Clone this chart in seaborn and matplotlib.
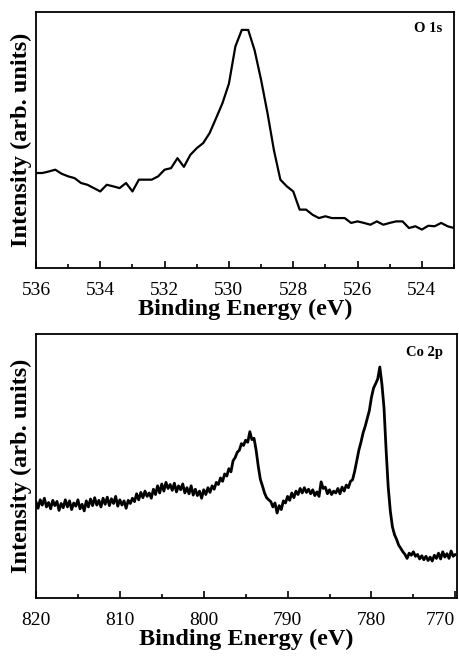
import numpy as np
import pandas as pd
import matplotlib
matplotlib.use("Agg")
import matplotlib.pyplot as plt
import seaborn as sns
from matplotlib.ticker import MultipleLocator

# Espectro O 1s (energia de ligação em eV, passo de 0.2 eV)
o1s_inicio, o1s_fim = 536.0, 523.0
o1s_intensidade = [
    0.371, 0.371, 0.377, 0.384, 0.368, 0.358, 0.351, 0.332, 0.325, 0.312,
    0.299, 0.325, 0.319, 0.312, 0.332, 0.299, 0.345, 0.345, 0.345, 0.358,
    0.384, 0.390, 0.429, 0.395, 0.442, 0.468, 0.488, 0.527, 0.585, 0.644,
    0.720, 0.865, 0.930, 0.930, 0.850, 0.735, 0.605, 0.460, 0.345, 0.319,
    0.299, 0.228, 0.228, 0.208, 0.195, 0.202, 0.195, 0.195, 0.195, 0.176,
    0.182, 0.176, 0.169, 0.182, 0.169, 0.176, 0.182, 0.182, 0.156, 0.163,
    0.150, 0.165, 0.163, 0.176, 0.163, 0.156,
]
o1s_ticks = [536, 534, 532, 530, 528, 526, 524]

# Espectro Co 2p (passo de 0.25 eV)
co2p_inicio, co2p_fim = 820.0, 770.0
co2p_intensidade = [
    0.365, 0.340, 0.372, 0.352, 0.378, 0.345, 0.362, 0.338,
    0.370, 0.350, 0.366, 0.332, 0.358, 0.342, 0.372, 0.345,
    0.368, 0.335, 0.360, 0.348, 0.372, 0.338, 0.355, 0.330,
    0.368, 0.345, 0.375, 0.350, 0.380, 0.352, 0.370, 0.345,
    0.378, 0.355, 0.382, 0.350, 0.376, 0.358, 0.385, 0.348,
    0.372, 0.352, 0.368, 0.340, 0.370, 0.358, 0.378, 0.365,
    0.395, 0.372, 0.400, 0.380, 0.405, 0.385, 0.398, 0.378,
    0.412, 0.392, 0.425, 0.398, 0.432, 0.405, 0.438, 0.415,
    0.430, 0.408, 0.435, 0.402, 0.425, 0.410, 0.432, 0.398,
    0.418, 0.395, 0.425, 0.390, 0.412, 0.388, 0.405, 0.378,
    0.410, 0.392, 0.418, 0.400, 0.425, 0.412, 0.438, 0.430,
    0.455, 0.442, 0.470, 0.462, 0.490, 0.478, 0.520, 0.532,
    0.552, 0.560, 0.585, 0.578, 0.598, 0.590, 0.630, 0.600,
    0.605, 0.560, 0.500, 0.450, 0.425, 0.398, 0.380, 0.372,
    0.365, 0.345, 0.360, 0.322, 0.350, 0.335, 0.368, 0.360,
    0.385, 0.370, 0.398, 0.380, 0.405, 0.392, 0.415, 0.398,
    0.418, 0.400, 0.412, 0.395, 0.410, 0.388, 0.402, 0.385,
    0.440, 0.415, 0.420, 0.395, 0.410, 0.392, 0.405, 0.398,
    0.415, 0.395, 0.420, 0.405, 0.428, 0.418, 0.442, 0.448,
    0.480, 0.520, 0.560, 0.590, 0.625, 0.650, 0.680, 0.710,
    0.760, 0.795, 0.812, 0.830, 0.875, 0.810, 0.720, 0.560,
    0.420, 0.330, 0.270, 0.240, 0.222, 0.200, 0.188, 0.175,
    0.165, 0.150, 0.170, 0.162, 0.175, 0.158, 0.165, 0.148,
    0.160, 0.145, 0.158, 0.142, 0.155, 0.140, 0.162, 0.150,
    0.170, 0.148, 0.175, 0.155, 0.168, 0.150, 0.178, 0.158,
    0.165,
]
co2p_ticks = [820, 810, 800, 790, 780, 770]

o1s = pd.DataFrame({
    'Energia': np.linspace(o1s_inicio, o1s_fim, len(o1s_intensidade)),
    'Intensidade': o1s_intensidade,
})
co2p = pd.DataFrame({
    'Energia': np.linspace(co2p_inicio, co2p_fim, len(co2p_intensidade)),
    'Intensidade': co2p_intensidade,
})

sns.set_theme(style='ticks')
plt.rcParams['font.family'] = ['Liberation Serif', 'DejaVu Serif']
plt.rcParams['text.color'] = 'black'
plt.rcParams['axes.labelcolor'] = 'black'
plt.rcParams['xtick.color'] = 'black'

fig = plt.figure(figsize=(4.59, 6.56), dpi=100)
ax1 = fig.add_axes([0.0784, 0.5915, 0.9107, 0.3902])
ax2 = fig.add_axes([0.0784, 0.0884, 0.9172, 0.4024])

def painel(ax, dados, xlim, ticks, menor, rotulo, xr, yr, lw):
    sns.lineplot(data=dados, x='Energia', y='Intensidade', ax=ax,
                 color='black', linewidth=lw, sort=False)
    ax.set_xlim(*xlim)
    ax.set_ylim(0, 1)
    ax.set_yticks([])
    ax.set_xticks(ticks)
    ax.set_xticklabels([str(t) for t in ticks])
    ax.xaxis.set_minor_locator(MultipleLocator(menor))
    ax.tick_params(axis='x', which='both', direction='in', top=False,
                   width=1.2, labelsize=14, pad=10, colors='black')
    ax.tick_params(axis='x', which='major', length=5)
    ax.tick_params(axis='x', which='minor', length=3)
    for s in ax.spines.values():
        s.set_linewidth(1.3)
        s.set_color('black')
    ax.set_xlabel('Binding Energy (eV)', fontsize=17.5, fontweight='bold',
                  labelpad=0)
    ax.set_ylabel('Intensity (arb. units)', fontsize=17.5, fontweight='bold',
                  labelpad=3)
    ax.text(xr, yr, rotulo, transform=ax.transAxes, ha='right', va='top',
            fontsize=10.5, fontweight='bold')

painel(ax1, o1s, (536, 523), o1s_ticks, 1, 'O 1s', 0.971, 0.96, 1.6)
painel(ax2, co2p, (820, 769.8), co2p_ticks, 5, 'Co 2p', 0.967, 0.955, 2.0)
ax2.get_xticklabels()[-1].set_horizontalalignment('right')

fig.savefig('out.png', dpi=100)
